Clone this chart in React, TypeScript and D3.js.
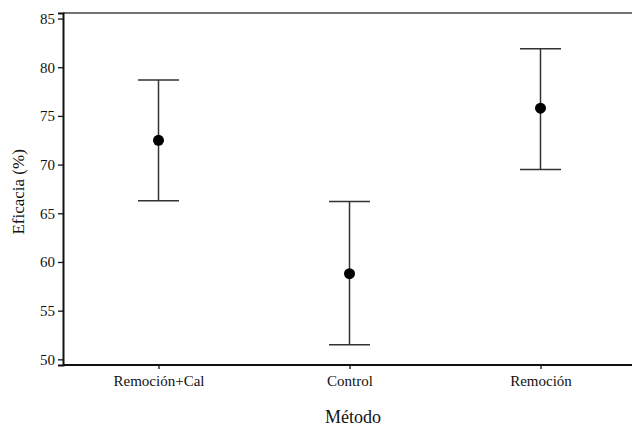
import * as d3 from "d3";
import React, { useEffect, useRef } from "react";

const metodos = ["Remoción+Cal", "Control", "Remoción"];
const medias = [72.5, 58.8, 75.8];
const superior = [78.7, 66.2, 81.9];
const inferior = [66.3, 51.5, 69.5];
const yTicks = [50, 55, 60, 65, 70, 75, 80, 85];

const W = 632;
const H = 426;

export default function App() {
  const ref = useRef<SVGSVGElement>(null);

  useEffect(() => {
    const margin = { top: 13, right: 0, bottom: 60, left: 63 };
    const svg = d3.select(ref.current);
    svg.selectAll("*").remove();

    const data = metodos.map((m, i) => ({
      m,
      media: medias[i],
      sup: superior[i],
      inf: inferior[i],
    }));

    const x = d3
      .scalePoint<string>()
      .domain(metodos)
      .range([margin.left, 636])
      .padding(0.5);
    const y = d3
      .scaleLinear()
      .domain([49.42, 85.57])
      .range([H - margin.bottom - 1, margin.top]);

    const font = "'Liberation Serif', 'Times New Roman', serif";

    // top frame line
    svg
      .append("line")
      .attr("x1", margin.left)
      .attr("x2", W)
      .attr("y1", y(85.57))
      .attr("y2", y(85.57))
      .attr("stroke", "#444")
      .attr("stroke-width", 1.5);

    // y axis
    const yAxis = svg
      .append("g")
      .attr("transform", `translate(${margin.left},0)`)
      .call(d3.axisLeft(y).tickValues(yTicks).tickSize(5).tickPadding(3));
    yAxis.select(".domain").attr("stroke", "#111").attr("stroke-width", 2);
    yAxis.selectAll(".tick line").attr("stroke", "#111").attr("stroke-width", 1.3);
    yAxis
      .selectAll(".tick text")
      .attr("font-family", font)
      .attr("font-size", 15)
      .attr("fill", "#111");

    // x axis
    const xAxis = svg
      .append("g")
      .attr("transform", `translate(0,${y(49.42)})`)
      .call(d3.axisBottom(x).tickSize(4).tickPadding(6).tickSizeOuter(0));
    xAxis
      .select(".domain")
      .attr("d", `M${margin.left},0H${W}`)
      .attr("stroke", "#111")
      .attr("stroke-width", 2);
    xAxis.selectAll(".tick line").attr("stroke", "#111").attr("stroke-width", 1.3);
    xAxis
      .selectAll(".tick text")
      .attr("font-family", font)
      .attr("font-size", 15)
      .attr("fill", "#111");

    // error bars
    const g = svg.append("g");
    const cap = 20.5;
    g.selectAll("line.v")
      .data(data)
      .enter()
      .append("line")
      .attr("x1", (d) => x(d.m)!)
      .attr("x2", (d) => x(d.m)!)
      .attr("y1", (d) => y(d.sup))
      .attr("y2", (d) => y(d.inf))
      .attr("stroke", "#333")
      .attr("stroke-width", 1.5);
    g.selectAll("line.top")
      .data(data)
      .enter()
      .append("line")
      .attr("x1", (d) => x(d.m)! - cap)
      .attr("x2", (d) => x(d.m)! + cap)
      .attr("y1", (d) => y(d.sup))
      .attr("y2", (d) => y(d.sup))
      .attr("stroke", "#333")
      .attr("stroke-width", 1.5);
    g.selectAll("line.bot")
      .data(data)
      .enter()
      .append("line")
      .attr("x1", (d) => x(d.m)! - cap)
      .attr("x2", (d) => x(d.m)! + cap)
      .attr("y1", (d) => y(d.inf))
      .attr("y2", (d) => y(d.inf))
      .attr("stroke", "#333")
      .attr("stroke-width", 1.5);
    g.selectAll("circle")
      .data(data)
      .enter()
      .append("circle")
      .attr("cx", (d) => x(d.m)!)
      .attr("cy", (d) => y(d.media))
      .attr("r", 5.5)
      .attr("fill", "#000");

    // axis titles
    svg
      .append("text")
      .attr("x", 353)
      .attr("y", 423)
      .attr("text-anchor", "middle")
      .attr("font-family", font)
      .attr("font-size", 18)
      .attr("fill", "#111")
      .text("Método");
    svg
      .append("text")
      .attr("transform", `translate(24,${y(67.2)}) rotate(-90)`)
      .attr("text-anchor", "middle")
      .attr("font-family", font)
      .attr("font-size", 17)
      .attr("fill", "#111")
      .text("Eficacia  (%)");
  }, []);

  return (
    <svg
      ref={ref}
      width={W}
      height={H}
      style={{ position: "absolute", left: 0, top: 0, background: "#fff" }}
    />
  );
}
